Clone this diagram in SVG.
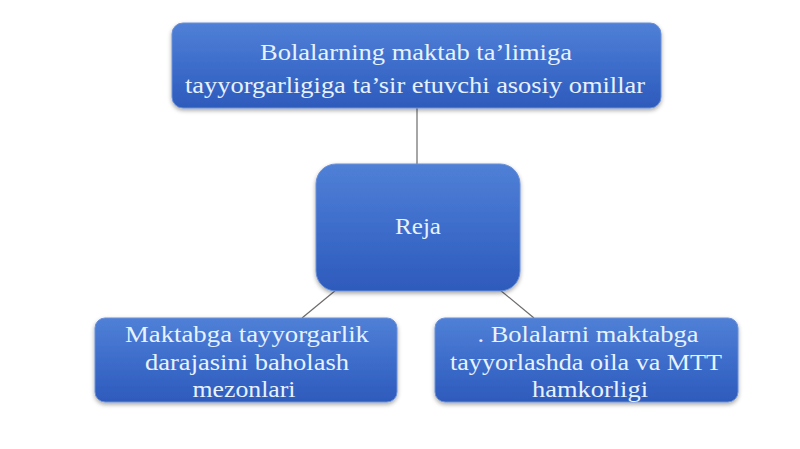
<svg xmlns="http://www.w3.org/2000/svg" width="800" height="449" viewBox="0 0 800 449">
<defs>
<linearGradient id="g" x1="0" y1="0" x2="0" y2="1">
<stop offset="0" stop-color="#5080d6"/>
<stop offset="0.5" stop-color="#3d6dcb"/>
<stop offset="1" stop-color="#2e5bbc"/>
</linearGradient>
<filter id="sh" x="-10%" y="-10%" width="120%" height="130%">
<feDropShadow dx="0" dy="2" stdDeviation="2" flood-color="#000" flood-opacity="0.35"/>
</filter>
</defs>
<style>
.box{fill:url(#g);stroke:#6a90d8;stroke-width:1;filter:url(#sh)}
.t{font-family:"Liberation Serif","Times New Roman",serif;fill:#e6f2ff;text-anchor:middle;font-size:23.5px}
.c{stroke:#6b6b6b;stroke-width:1.2;fill:none}
</style>
<rect width="800" height="449" fill="#ffffff"/>
<g id="connectors">
<line class="c" x1="417" y1="108" x2="417" y2="164"/>
<line class="c" x1="336" y1="290" x2="302" y2="318"/>
<line class="c" x1="500" y1="290" x2="534" y2="318"/>
</g>
<g id="node-top">
<rect class="box" x="172" y="23" width="489" height="85" rx="11"/>
<text class="t" x="416" y="60" textLength="312" lengthAdjust="spacingAndGlyphs">Bolalarning maktab ta’limiga</text>
<text class="t" x="415" y="93" textLength="460" lengthAdjust="spacingAndGlyphs">tayyorgarligiga ta’sir etuvchi asosiy omillar</text>
</g>
<g id="node-reja">
<rect class="box" x="316" y="164" width="204" height="127" rx="20"/>
<text class="t" x="418" y="234" textLength="46" lengthAdjust="spacingAndGlyphs">Reja</text>
</g>
<g id="node-left">
<rect class="box" x="95" y="318" width="302" height="84" rx="10"/>
<text class="t" x="247" y="342" textLength="244" lengthAdjust="spacingAndGlyphs">Maktabga tayyorgarlik</text>
<text class="t" x="247" y="370" textLength="204" lengthAdjust="spacingAndGlyphs">darajasini baholash</text>
<text class="t" x="244" y="397" textLength="103" lengthAdjust="spacingAndGlyphs">mezonlari</text>
</g>
<g id="node-right">
<rect class="box" x="435" y="318" width="303" height="84" rx="10"/>
<text class="t" x="588" y="342" textLength="221" lengthAdjust="spacingAndGlyphs">. Bolalarni maktabga</text>
<text class="t" x="586" y="370" textLength="272" lengthAdjust="spacingAndGlyphs">tayyorlashda oila va MTT</text>
<text class="t" x="590" y="397" textLength="116" lengthAdjust="spacingAndGlyphs">hamkorligi</text>
</g>
</svg>
